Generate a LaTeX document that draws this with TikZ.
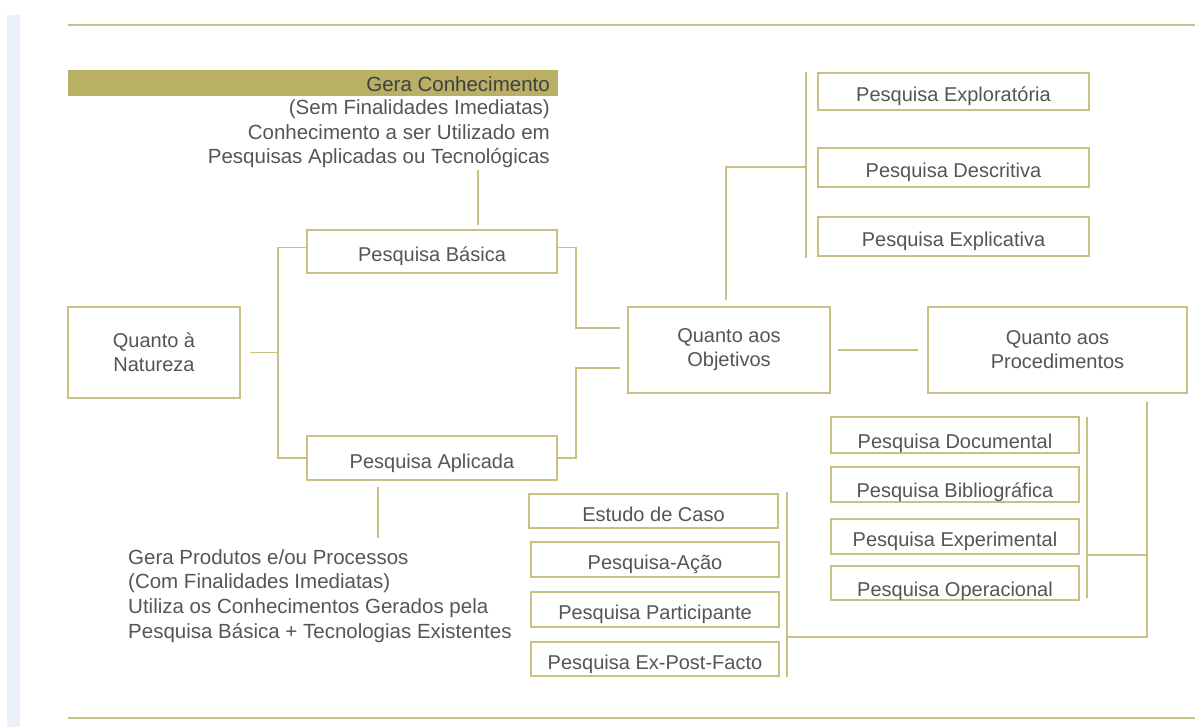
\documentclass[tikz,border=0pt]{standalone}
\usepackage{fontspec}
\setmainfont{Liberation Sans}
\usepackage{xcolor}
\usepackage{tikz}
\definecolor{ouro}{HTML}{C9C184}
\definecolor{ourofundo}{HTML}{B9AF65}
\definecolor{texto}{HTML}{555555}
\definecolor{faixa}{HTML}{EAF1F9}

\begin{document}
\begin{tikzpicture}[x=1pt,y=-1pt,
  caixa/.style={draw=ouro, line width=1.5pt, fill=white, text=texto, align=center,
    font=\fontsize{20}{24}\selectfont, inner sep=0pt},
  simples/.style={caixa, text height=20pt, text depth=0pt},
  baixa/.style={caixa, text height=26pt, text depth=0pt},
  linha/.style={draw=ouro, line width=1.5pt},
  nota/.style={text=texto, font=\fontsize{20.5}{24.7}\selectfont, inner sep=0pt}]
\useasboundingbox (0,0) rectangle (1203,727);

% Page decoration
\fill[faixa] (7,15) rectangle (20,727);
\draw[linha] (68,25) -- (1195,25);
\draw[linha] (68,718) -- (1195,718);

% Note above Pesquisa Basica
\fill[ourofundo] (68,70) rectangle (558,96);
\node[nota, text=black!75, anchor=east] (gera) at (550,84) {Gera Conhecimento};
\node[nota, align=right, anchor=north east] (notabasica) at (550,99.5)
  {(Sem Finalidades Imediatas)\\Conhecimento a ser Utilizado em\\Pesquisas Aplicadas ou Tecnológicas};

% Note below Pesquisa Aplicada
\node[nota, align=left, anchor=north west] (notaaplicada) at (128,549)
  {Gera Produtos e/ou Processos\\(Com Finalidades Imediatas)\\Utiliza os Conhecimentos Gerados pela\\Pesquisa Básica + Tecnologias Existentes};

% Main boxes
\node[caixa, minimum width=172pt, minimum height=91pt] (natureza) at (154,352.5) {Quanto à\\Natureza};
\node[simples, minimum width=250pt, minimum height=43pt] (basica) at (432,251.5) {Pesquisa Básica};
\node[simples, minimum width=250pt, minimum height=44pt] (aplicada) at (432,458) {Pesquisa Aplicada};
\node[caixa, minimum width=202pt, minimum height=86pt] (objetivos) at (729,350) {Quanto aos\\Objetivos};
\node[caixa, minimum width=259pt, minimum height=86pt] (procedimentos) at (1057.5,350) {Quanto aos\\Procedimentos};

% Objectives
\node[simples, minimum width=271pt, minimum height=37pt] (exploratoria) at (953.5,91.5) {Pesquisa Exploratória};
\node[simples, minimum width=271pt, minimum height=39pt] (descritiva) at (953.5,167.5) {Pesquisa Descritiva};
\node[simples, minimum width=271pt, minimum height=39pt] (explicativa) at (953.5,236.5) {Pesquisa Explicativa};

% Procedures, right group
\node[baixa, minimum width=248pt, minimum height=36pt] (documental) at (955,435) {Pesquisa Documental};
\node[baixa, minimum width=248pt, minimum height=35pt] (bibliografica) at (955,484.5) {Pesquisa Bibliográfica};
\node[simples, minimum width=248pt, minimum height=35pt] (experimental) at (955,536.5) {Pesquisa Experimental};
\node[baixa, minimum width=248pt, minimum height=34pt] (operacional) at (955,583) {Pesquisa Operacional};

% Procedures, left group
\node[simples, minimum width=249pt, minimum height=34pt] (estudo) at (653.5,511) {Estudo de Caso};
\node[simples, minimum width=248pt, minimum height=35pt] (acao) at (655,559.5) {Pesquisa-Ação};
\node[simples, minimum width=248pt, minimum height=35pt] (participante) at (655,609.5) {Pesquisa Participante};
\node[simples, minimum width=248pt, minimum height=34pt] (expost) at (655,659) {Pesquisa Ex-Post-Facto};

% Connector points
\coordinate (nnatini) at (250,352.5);
\coordinate (nnat) at (278,352.5);
\coordinate (nbas) at (576,328);
\coordinate (nbasfim) at (620,328);
\coordinate (napl) at (576,368);
\coordinate (naplfim) at (620,368);
\coordinate (vbas) at (478,225);
\coordinate (vbasfim) at (478,170);
\coordinate (vapl) at (378,487);
\coordinate (vaplfim) at (378,538);
\coordinate (nobjini) at (838,350);
\coordinate (nprocfim) at (918,350);
\coordinate (vobj) at (726,300);
\coordinate (nobj) at (806,167);
\coordinate (topo) at (806,72);
\coordinate (base) at (806,258);
\coordinate (ndir) at (1087,417);
\coordinate (ndirb) at (1087,598);
\coordinate (nesq) at (787,492);
\coordinate (nesqb) at (787,677);
\coordinate (vproc) at (1147,402);
\coordinate (ncanto) at (1147,637);
\coordinate (nmeio) at (1147,555);

% Connectors
\draw[linha] (nnatini) -- (nnat);
\draw[linha] ([yshift=4pt]basica.west) -| (nnat) |- (aplicada.west);
\draw[linha] ([yshift=4pt]basica.east) -| (nbas) -- (nbasfim);
\draw[linha] (aplicada.east) -| (napl) -- (naplfim);
\draw[linha] (vbas) -- (vbasfim);
\draw[linha] (vapl) -- (vaplfim);
\draw[linha] (nobjini) -- (nprocfim);
\draw[linha] (vobj) |- (nobj);
\draw[linha] (topo) -- (base);
\draw[linha] (ndir) -- (ndirb);
\draw[linha] (nesq) -- (nesqb);
\draw[linha] (vproc) -- (ncanto) -- (ncanto -| nesq);
\draw[linha] (nmeio) -- (nmeio -| ndir);
\end{tikzpicture}
\end{document}
